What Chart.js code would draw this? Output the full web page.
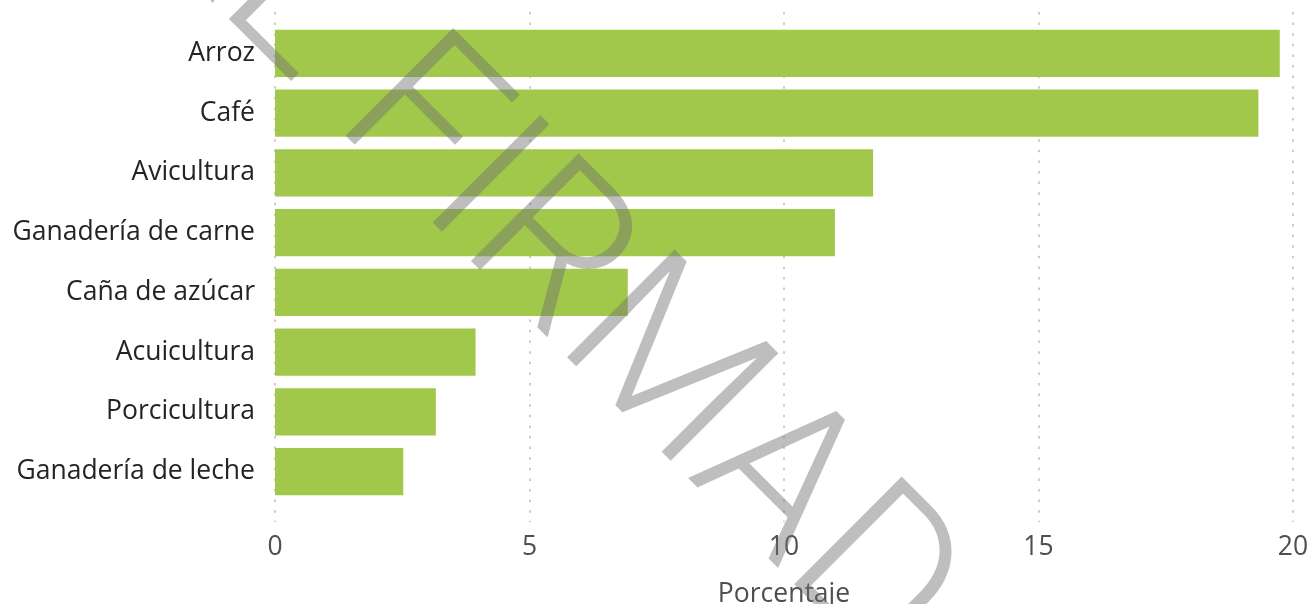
<!DOCTYPE html>
<html lang="es">
<head>
  <meta charset="UTF-8">
  <title>Porcentaje por sector</title>
  <script src="https://cdn.jsdelivr.net/npm/chart.js"></script>
  <style>
    * {
      margin: 0;
      padding: 0;
      box-sizing: border-box;
    }

    body {
      background: #fff;
      width: 1313px;
      height: 604px;
      overflow: hidden;
    }

    canvas {
      display: block;
    }
  </style>
</head>
<body>
  <canvas id="sectorChart" width="1313" height="604"></canvas>

  <script>
    const sectores = ['Arroz', 'Café', 'Avicultura', 'Ganadería de carne', 'Caña de azúcar', 'Acuicultura', 'Porcicultura', 'Ganadería de leche'];
    const porcentajes = [19.74, 19.32, 11.75, 11.0, 6.93, 3.94, 3.16, 2.52];
    const ticksX = [0, 5, 10, 15, 20];
    const tituloX = 'Porcentaje';
    const marcaAgua = 'ORIGINAL FIRMADO';

    const labelFont = 'Open Sans';

    // dotted vertical gridlines, a bit taller than the bar band (like Power BI)
    const dottedGrid = {
      id: 'dottedGrid',
      beforeDatasetsDraw(chart) {
        const ctx = chart.ctx;
        const x = chart.scales.x;
        ctx.save();
        ctx.strokeStyle = '#cccccc';
        ctx.lineWidth = 2;
        ctx.setLineDash([2.5, 8.1]);
        ticksX.forEach(v => {
          const px = Math.round(x.getPixelForValue(v));
          ctx.beginPath();
          ctx.moveTo(px, 12);
          ctx.lineTo(px, 522);
          ctx.stroke();
        });
        ctx.restore();
      }
    };

    // diagonal watermark drawn over the chart
    const watermark = {
      id: 'watermark',
      afterDraw(chart) {
        const ctx = chart.ctx;
        ctx.save();
        ctx.font = '300 214px Roboto';
        ctx.fillStyle = 'rgba(110, 110, 110, 0.45)';
        ctx.textBaseline = 'alphabetic';
        ctx.translate(332, 122);
        ctx.rotate(Math.PI / 4);
        const pre = ctx.measureText('ORIGINAL ').width;
        const head = marcaAgua.slice(0, -1);
        ctx.fillText(head, -pre, 0);
        // the source font has a wider D, so the last letter sits further on
        ctx.fillText(marcaAgua.slice(-1), -pre + ctx.measureText(head).width + 30, 0);
        ctx.restore();
      }
    };

    const ctx = document.getElementById('sectorChart').getContext('2d');
    const chart = new Chart(ctx, {
      type: 'bar',
      data: {
        labels: sectores,
        datasets: [{
          label: tituloX,
          data: porcentajes,
          backgroundColor: '#a2c84b',
          borderWidth: 0,
          categoryPercentage: 1,
          barPercentage: 0.79
        }]
      },
      options: {
        indexAxis: 'y',
        responsive: false,
        animation: false,
        devicePixelRatio: 1,
        layout: {
          padding: { top: 23.6, right: 20, left: 0, bottom: 0 }
        },
        plugins: {
          legend: { display: false },
          tooltip: { enabled: false }
        },
        scales: {
          x: {
            min: 0,
            max: 20,
            afterBuildTicks(scale) {
              scale.ticks = ticksX.map(v => ({ value: v }));
            },
            afterFit(scale) {
              scale.height = 102.6;
              scale.paddingLeft = 0;
              scale.paddingRight = 0;
            },
            grid: { display: false, drawTicks: false },
            border: { display: false },
            ticks: {
              padding: 30,
              color: '#4f4f4f',
              font: { family: labelFont, size: 26.5 }
            },
            title: {
              display: true,
              text: tituloX,
              color: '#4f4f4f',
              padding: { top: 0, bottom: -6 },
              font: { family: labelFont, size: 26.5 }
            }
          },
          y: {
            afterFit(scale) {
              scale.width = 275;
              scale.paddingTop = 0;
              scale.paddingBottom = 0;
            },
            grid: { display: false, drawTicks: false },
            border: { display: false },
            ticks: {
              padding: 20,
              color: '#252423',
              font: { family: labelFont, size: 26.5 }
            }
          }
        }
      },
      plugins: [dottedGrid, watermark]
    });
  </script>
</body>
</html>
